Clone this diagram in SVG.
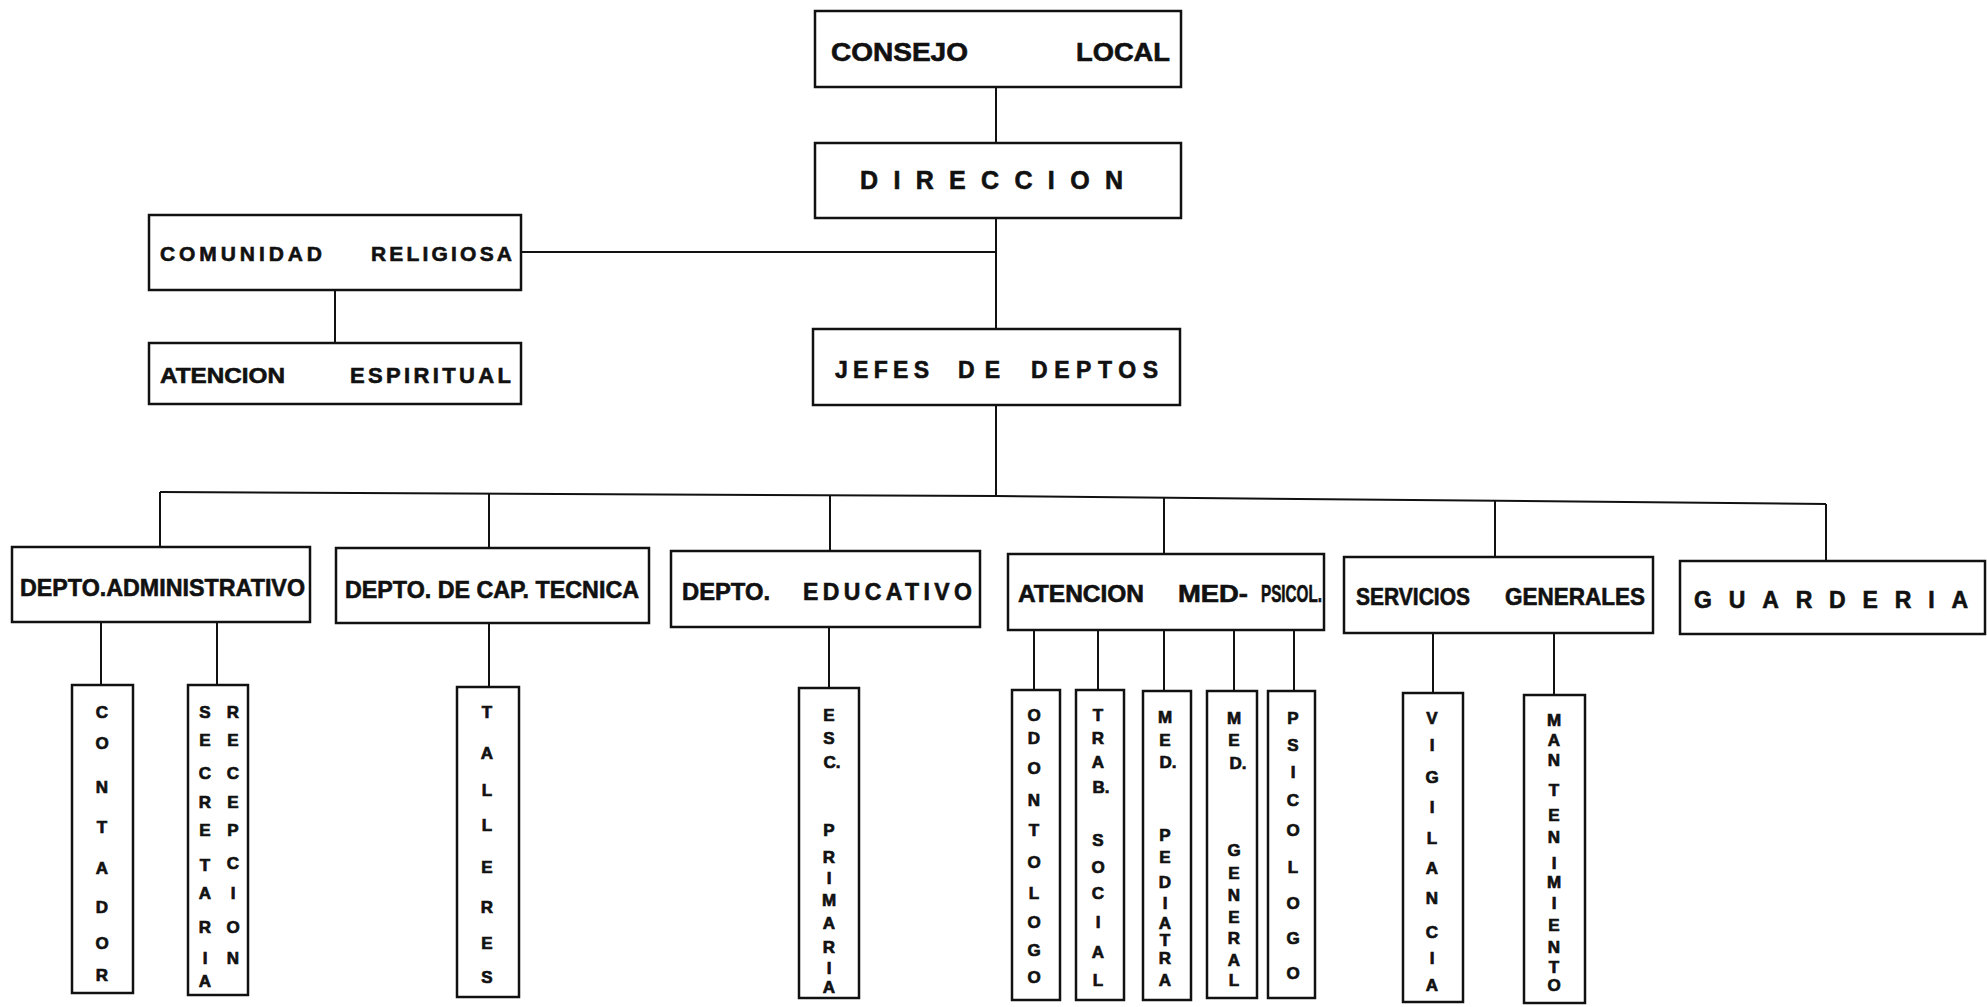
<svg xmlns="http://www.w3.org/2000/svg" width="1987" height="1007" viewBox="0 0 1987 1007">
<style>
.box{fill:#fff;stroke:#111;stroke-width:2.5}
.con{fill:none;stroke:#111;stroke-width:2}
.h{font-family:"Liberation Sans",Arial,sans-serif;font-weight:bold;fill:#111;stroke:#111;stroke-width:0.6}
.v{font-family:"Liberation Sans",Arial,sans-serif;font-weight:bold;font-size:17px;fill:#111;stroke:#111;stroke-width:0.7;text-anchor:middle}
</style>
<rect x="0" y="0" width="1987" height="1007" fill="#fff"/>
<g id="connectors">
<path class="con" d="M996 87V143M996 218V329M521 252H996M335 290V343M996 405V495"/>
<path class="con" d="M160 492L996 496L1826 504"/>
<path class="con" d="M160 492V547M489 494V548M830 495V551M1164 497V554M1495 500V557M1826 504V561"/>
<path class="con" d="M101 622V685M217 622V685M489 623V687M829 627V688M1034 630V690M1098 630V690M1164 630V691M1234 630V691M1294 630V691M1433 634V693M1554 634V695"/>
</g>
<g id="consejo-local">
<rect class="box" x="815" y="11" width="366" height="76"/>
<text class="h" font-size="25" x="831" y="61" textLength="137" lengthAdjust="spacingAndGlyphs">CONSEJO</text>
<text class="h" font-size="25" x="1076" y="61" textLength="94" lengthAdjust="spacingAndGlyphs">LOCAL</text>
</g>
<g id="direccion">
<rect class="box" x="815" y="143" width="366" height="75"/>
<text class="h" font-size="25" x="860" y="189" textLength="263" lengthAdjust="spacing">DIRECCION</text>
</g>
<g id="comunidad-religiosa">
<rect class="box" x="149" y="215" width="372" height="75"/>
<text class="h" font-size="21" x="160" y="261" textLength="162" lengthAdjust="spacing">COMUNIDAD</text>
<text class="h" font-size="21" x="371" y="261" textLength="141" lengthAdjust="spacing">RELIGIOSA</text>
</g>
<g id="atencion-espiritual">
<rect class="box" x="149" y="343" width="372" height="61"/>
<text class="h" font-size="22" x="160" y="383" textLength="125" lengthAdjust="spacingAndGlyphs">ATENCION</text>
<text class="h" font-size="22" x="350" y="383" textLength="161" lengthAdjust="spacing">ESPIRITUAL</text>
</g>
<g id="jefes-de-deptos">
<rect class="box" x="813" y="329" width="367" height="76"/>
<text class="h" font-size="23" x="835" y="378" textLength="94" lengthAdjust="spacing">JEFES</text>
<text class="h" font-size="23" x="958" y="378" textLength="42" lengthAdjust="spacing">DE</text>
<text class="h" font-size="23" x="1031" y="378" textLength="127" lengthAdjust="spacing">DEPTOS</text>
</g>
<g id="depto-administrativo">
<rect class="box" x="12" y="547" width="298" height="75"/>
<text class="h" font-size="24" x="20" y="596" textLength="285" lengthAdjust="spacingAndGlyphs">DEPTO.ADMINISTRATIVO</text>
</g>
<g id="depto-cap-tecnica">
<rect class="box" x="336" y="548" width="313" height="75"/>
<text class="h" font-size="24" x="345" y="598" textLength="294" lengthAdjust="spacingAndGlyphs">DEPTO. DE CAP. TECNICA</text>
</g>
<g id="depto-educativo">
<rect class="box" x="671" y="551" width="309" height="76"/>
<text class="h" font-size="23" x="682" y="600" textLength="88" lengthAdjust="spacingAndGlyphs">DEPTO.</text>
<text class="h" font-size="23" x="803" y="600" textLength="169" lengthAdjust="spacing">EDUCATIVO</text>
</g>
<g id="atencion-med-psicol">
<rect class="box" x="1008" y="554" width="316" height="76"/>
<text class="h" font-size="23" x="1018" y="602" textLength="126" lengthAdjust="spacingAndGlyphs">ATENCION</text>
<text class="h" font-size="23" x="1178" y="602" textLength="70" lengthAdjust="spacingAndGlyphs">MED-</text>
<text class="h" font-size="23" x="1261" y="602" textLength="61" lengthAdjust="spacingAndGlyphs">PSICOL.</text>
</g>
<g id="servicios-generales">
<rect class="box" x="1344" y="557" width="309" height="76"/>
<text class="h" font-size="23" x="1356" y="605" textLength="114" lengthAdjust="spacingAndGlyphs">SERVICIOS</text>
<text class="h" font-size="23" x="1505" y="605" textLength="140" lengthAdjust="spacingAndGlyphs">GENERALES</text>
</g>
<g id="guarderia">
<rect class="box" x="1680" y="561" width="305" height="73"/>
<text class="h" font-size="23" x="1694" y="608" textLength="274" lengthAdjust="spacing">GUARDERIA</text>
</g>
<g id="contador">
<rect class="box" x="72" y="685" width="61" height="308"/>
<text class="v"><tspan x="102" y="718">C</tspan><tspan x="102" y="749">O</tspan><tspan x="102" y="793">N</tspan><tspan x="102" y="833">T</tspan><tspan x="102" y="874">A</tspan><tspan x="102" y="913">D</tspan><tspan x="102" y="949">O</tspan><tspan x="102" y="981">R</tspan></text>
</g>
<g id="secretaria-recepcion">
<rect class="box" x="188" y="685" width="60" height="310"/>
<text class="v"><tspan x="205" y="718">S</tspan><tspan x="205" y="746">E</tspan><tspan x="205" y="779">C</tspan><tspan x="205" y="808">R</tspan><tspan x="205" y="836">E</tspan><tspan x="205" y="871">T</tspan><tspan x="205" y="899">A</tspan><tspan x="205" y="933">R</tspan><tspan x="205" y="964">I</tspan><tspan x="205" y="987">A</tspan></text>
<text class="v"><tspan x="233" y="718">R</tspan><tspan x="233" y="746">E</tspan><tspan x="233" y="779">C</tspan><tspan x="233" y="808">E</tspan><tspan x="233" y="836">P</tspan><tspan x="233" y="869">C</tspan><tspan x="233" y="899">I</tspan><tspan x="233" y="933">O</tspan><tspan x="233" y="964">N</tspan></text>
</g>
<g id="talleres">
<rect class="box" x="457" y="687" width="62" height="310"/>
<text class="v"><tspan x="487" y="718">T</tspan><tspan x="487" y="759">A</tspan><tspan x="487" y="796">L</tspan><tspan x="487" y="831">L</tspan><tspan x="487" y="873">E</tspan><tspan x="487" y="913">R</tspan><tspan x="487" y="949">E</tspan><tspan x="487" y="983">S</tspan></text>
</g>
<g id="esc-primaria">
<rect class="box" x="799" y="688" width="60" height="310"/>
<text class="v"><tspan x="829" y="721">E</tspan><tspan x="829" y="744">S</tspan><tspan x="832" y="768">C.</tspan><tspan x="829" y="836">P</tspan><tspan x="829" y="863">R</tspan><tspan x="829" y="884">I</tspan><tspan x="829" y="906">M</tspan><tspan x="829" y="929">A</tspan><tspan x="829" y="953">R</tspan><tspan x="829" y="974">I</tspan><tspan x="829" y="993">A</tspan></text>
</g>
<g id="odontologo">
<rect class="box" x="1012" y="690" width="48" height="310"/>
<text class="v"><tspan x="1034" y="721">O</tspan><tspan x="1034" y="744">D</tspan><tspan x="1034" y="774">O</tspan><tspan x="1034" y="806">N</tspan><tspan x="1034" y="836">T</tspan><tspan x="1034" y="868">O</tspan><tspan x="1034" y="899">L</tspan><tspan x="1034" y="928">O</tspan><tspan x="1034" y="956">G</tspan><tspan x="1034" y="983">O</tspan></text>
</g>
<g id="trab-social">
<rect class="box" x="1076" y="690" width="48" height="310"/>
<text class="v"><tspan x="1098" y="721">T</tspan><tspan x="1098" y="744">R</tspan><tspan x="1098" y="768">A</tspan><tspan x="1101" y="793">B.</tspan><tspan x="1098" y="846">S</tspan><tspan x="1098" y="873">O</tspan><tspan x="1098" y="899">C</tspan><tspan x="1098" y="928">I</tspan><tspan x="1098" y="958">A</tspan><tspan x="1098" y="986">L</tspan></text>
</g>
<g id="med-pediatra">
<rect class="box" x="1143" y="691" width="48" height="309"/>
<text class="v"><tspan x="1165" y="723">M</tspan><tspan x="1165" y="746">E</tspan><tspan x="1168" y="768">D.</tspan><tspan x="1165" y="841">P</tspan><tspan x="1165" y="863">E</tspan><tspan x="1165" y="888">D</tspan><tspan x="1165" y="909">I</tspan><tspan x="1165" y="929">A</tspan><tspan x="1165" y="946">T</tspan><tspan x="1165" y="964">R</tspan><tspan x="1165" y="986">A</tspan></text>
</g>
<g id="med-general">
<rect class="box" x="1207" y="691" width="50" height="307"/>
<text class="v"><tspan x="1234" y="724">M</tspan><tspan x="1234" y="746">E</tspan><tspan x="1238" y="769">D.</tspan><tspan x="1234" y="856">G</tspan><tspan x="1234" y="879">E</tspan><tspan x="1234" y="901">N</tspan><tspan x="1234" y="923">E</tspan><tspan x="1234" y="944">R</tspan><tspan x="1234" y="966">A</tspan><tspan x="1234" y="986">L</tspan></text>
</g>
<g id="psicologo">
<rect class="box" x="1268" y="691" width="47" height="307"/>
<text class="v"><tspan x="1293" y="724">P</tspan><tspan x="1293" y="751">S</tspan><tspan x="1293" y="778">I</tspan><tspan x="1293" y="806">C</tspan><tspan x="1293" y="836">O</tspan><tspan x="1293" y="873">L</tspan><tspan x="1293" y="909">O</tspan><tspan x="1293" y="944">G</tspan><tspan x="1293" y="979">O</tspan></text>
</g>
<g id="vigilancia">
<rect class="box" x="1403" y="693" width="60" height="309"/>
<text class="v"><tspan x="1432" y="724">V</tspan><tspan x="1432" y="751">I</tspan><tspan x="1432" y="783">G</tspan><tspan x="1432" y="813">I</tspan><tspan x="1432" y="844">L</tspan><tspan x="1432" y="874">A</tspan><tspan x="1432" y="904">N</tspan><tspan x="1432" y="938">C</tspan><tspan x="1432" y="964">I</tspan><tspan x="1432" y="991">A</tspan></text>
</g>
<g id="mantenimiento">
<rect class="box" x="1524" y="695" width="61" height="308"/>
<text class="v"><tspan x="1554" y="726">M</tspan><tspan x="1554" y="746">A</tspan><tspan x="1554" y="766">N</tspan><tspan x="1554" y="796">T</tspan><tspan x="1554" y="821">E</tspan><tspan x="1554" y="843">N</tspan><tspan x="1554" y="869">I</tspan><tspan x="1554" y="888">M</tspan><tspan x="1554" y="909">I</tspan><tspan x="1554" y="931">E</tspan><tspan x="1554" y="953">N</tspan><tspan x="1554" y="973">T</tspan><tspan x="1554" y="991">O</tspan></text>
</g>
</svg>
